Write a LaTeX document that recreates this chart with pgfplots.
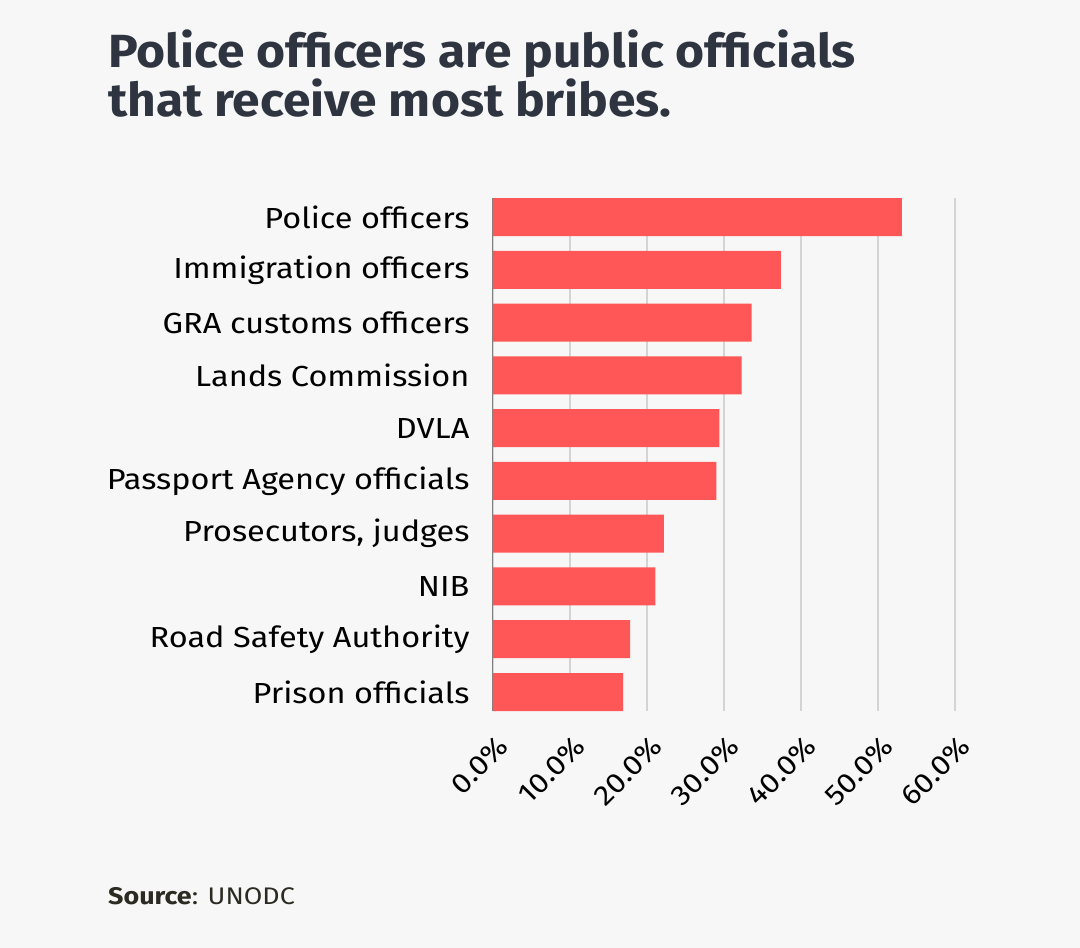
\documentclass[border=0pt]{standalone}
\usepackage{pgfplots}
\pgfplotsset{compat=1.18}
\usepackage{fontspec}
\setmainfont{Fira Sans}[FakeStretch=1.12]
\newfontfamily\titlefont{Fira Sans}[FakeStretch=1.07]
\definecolor{bg}{HTML}{F7F7F7}
\definecolor{barc}{HTML}{FF5757}
\definecolor{titlec}{HTML}{2F3540}
\definecolor{srcc}{HTML}{2B2B22}
\definecolor{gridc}{HTML}{D4D4D4}
\pgfplotstableread{
idx value
0 53.1
1 37.4
2 33.6
3 32.3
4 29.4
5 29.0
6 22.2
7 21.1
8 17.8
9 16.9
}\datatable
\begin{document}
\begin{tikzpicture}[x=1pt,y=1pt]
\fill[bg] (0,0) rectangle (1080,948);
\node[anchor=base west, inner sep=0, text=titlec, font=\titlefont\fontsize{46.5}{50}\selectfont\bfseries] at (108,880) {Police officers are public officials};
\node[anchor=base west, inner sep=0, text=titlec, font=\titlefont\fontsize{46.5}{50}\selectfont\bfseries] at (108,831) {that receive most bribes.};
\node[anchor=base west, inner sep=0, text=srcc, font=\fontsize{24}{26}\selectfont] at (108,43) {\textbf{Source}: UNODC};
\begin{axis}[
  at={(493pt,237pt)}, anchor=south west,
  scale only axis, width=462pt, height=513pt,
  xmin=0, xmax=60,
  ymin=-0.36, ymax=9.36,
  y dir=reverse,
  xbar, bar width=0.72,
  axis line style={draw=none},
  axis x line*=bottom,
  xtick={0,10,20,30,40,50,60},
  xticklabels={0.0\%,10.0\%,20.0\%,30.0\%,40.0\%,50.0\%,60.0\%},
  xmajorgrids, major grid style={gridc, line width=1.2pt},
  ytick={0,...,9},
  yticklabels={Police officers,Immigration officers,GRA customs officers,Lands Commission,DVLA,Passport Agency officials,{Prosecutors, judges},NIB,Road Safety Authority,Prison officials},
  major tick length=0pt,
  yticklabel style={font=\fontsize{29}{30}\selectfont, text=black, xshift=-20pt},
  xticklabel style={font=\fontsize{28}{30}\selectfont, text=black, xshift=13pt, yshift=-28pt, rotate=45, anchor=east},
  clip=false,
]
\draw[gray, line width=1pt] (axis cs:0,-0.36) -- (axis cs:0,9.36);
\addplot[fill=barc, draw=none] table[x=value, y=idx] {\datatable};
\end{axis}
\end{tikzpicture}
\end{document}
